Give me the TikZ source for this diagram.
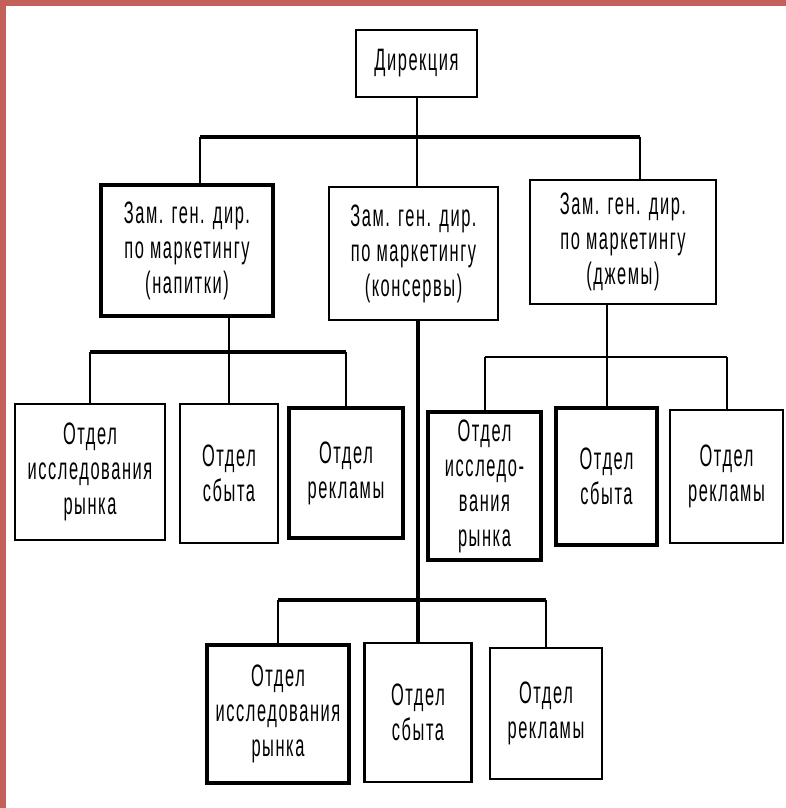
\documentclass[tikz,border=0pt]{standalone}
\usepackage{fontspec}
\newfontfamily\orgfont[FakeStretch=0.53,LetterSpace=5]{Liberation Sans}
\usetikzlibrary{positioning}
\definecolor{frame}{RGB}{196,96,90}

\begin{document}
\begin{tikzpicture}[x=0.5pt, y=-0.5pt,
    unit/.style={draw, line width=1.2pt, align=center, inner sep=0pt,
                 font=\orgfont\fontsize{15.5}{17.5}\selectfont},
    unitbold/.style={unit, line width=1.8pt},
    link/.style={line width=1pt},
    bar/.style={line width=2.2pt}]
    \useasboundingbox (0,0) rectangle (786,808);
    \fill[frame] (0,0) rectangle (786,6);
    \fill[frame] (0,0) rectangle (6,808);

    % management
    \node (dir) [unit, minimum width=60.5pt, minimum height=33.5pt] at (416.5,63.5) {Дирекция};
    \node (z1) [unitbold, minimum width=86pt, minimum height=65.5pt] at (187,250.5)
        {Зам. ген. дир.\\по маркетингу\\(напитки)};
    \node (z2) [unit, minimum width=84.5pt, minimum height=66.5pt] at (413.5,253.5)
        {Зам. ген. дир.\\по маркетингу\\(консервы)};
    \node (z3) [unit, minimum width=93pt, minimum height=62pt] at (623,242)
        {Зам. ген. дир.\\по маркетингу\\(джемы)};

    % departments
    \node (a1) [unit, minimum width=75pt, minimum height=68pt] at (90,472) {Отдел\\исследования\\рынка};
    \node (b1) [unit, minimum width=49pt, minimum height=69.5pt] at (229,473.5) {Отдел\\сбыта};
    \node (c1) [unitbold, minimum width=57pt, minimum height=65pt] at (346,473) {Отдел\\рекламы};
    \node (a3) [unitbold, minimum width=56.5pt, minimum height=74pt] at (484.5,486) {Отдел\\исследо-\\вания\\рынка};
    \node (b3) [unitbold, minimum width=50.5pt, minimum height=68.5pt] at (606.5,476.5) {Отдел\\сбыта};
    \node (c3) [unit, minimum width=56.5pt, minimum height=66.5pt] at (726.5,476.5) {Отдел\\рекламы};
    \node (a2) [unitbold, minimum width=71pt, minimum height=69pt] at (278,714) {Отдел\\исследования\\рынка};
    \node (b2) [unit, minimum width=53.5pt, minimum height=69.5pt] at (418,712.5) {Отдел\\сбыта};
    \node (c2) [unit, minimum width=56pt, minimum height=65.5pt] at (546,713.5) {Отдел\\рекламы};

    % bars
    \coordinate (top-l) at (200,137);
    \coordinate (top-r) at (640,137);
    \coordinate (bar1) at (0,352);
    \coordinate (bar3) at (0,357);
    \coordinate (bar2) at (0,600);

    \draw[link] (dir.south) -- (dir.south |- top-l);
    \draw[bar] (top-l) -- (top-r);
    \draw[link] (top-l) -- (top-l |- z1.north);
    \draw[link] (dir.south |- top-l) -- (dir.south |- z2.north);
    \draw[link] (top-r) -- (top-r |- z3.north);

    \draw[link] (b1.north |- z1.south) -- (b1.north);
    \draw[bar] (a1.north |- bar1) -- (c1.north |- bar1);
    \draw[link] (b3.north |- z3.south) -- (b3.north);
    \draw[link] (a3.north |- bar3) -- (c3.north |- bar3);
    \draw[line width=1.6pt] (b2.north |- z2.south) -- (b2.north);
    \draw[bar] (a2.north |- bar2) -- (c2.north |- bar2);

    \foreach \Unit/\Bar in {a1/bar1, c1/bar1, a3/bar3, c3/bar3, a2/bar2, c2/bar2}
        \draw[link] (\Unit.north |- \Bar) -- (\Unit.north);
\end{tikzpicture}
\end{document}
